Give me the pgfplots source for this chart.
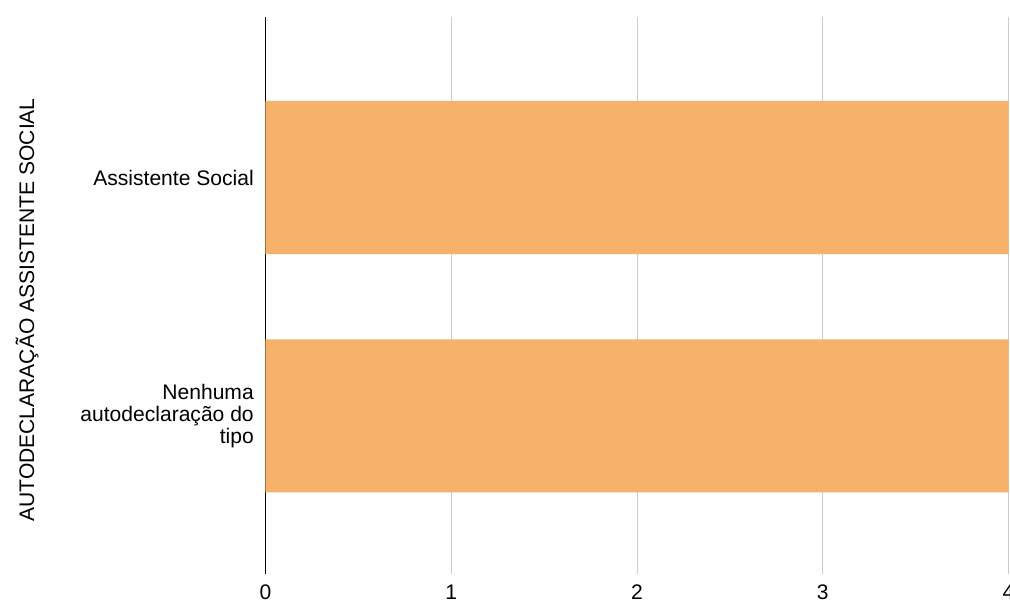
\documentclass[border=0pt]{standalone}
\usepackage{pgfplots}
\pgfplotsset{compat=1.18}
\usepackage{fontspec}
\setmainfont{Liberation Sans}
\definecolor{barc}{HTML}{F6B26B}
\definecolor{gridc}{HTML}{CCCCCC}
\begin{document}
\begin{tikzpicture}
\useasboundingbox (0,0) rectangle (757.5pt,452.25pt);
\begin{axis}[
  at={(199.125pt,21.75pt)}, anchor=south west,
  scale only axis, width=557.25pt, height=417.75pt,
  xbar, bar width=114.75pt,
  xmin=0, xmax=4, ymin=-0.6625, ymax=1.673,
  xtick={1,2,3,4},
  extra x ticks={0},
  extra x tick style={grid style={draw=black, line width=1pt}},
  ytick={0,1},
  yticklabels={{Nenhuma\\autodeclaração do\\tipo},{Assistente Social}},
  yticklabel style={align=right, anchor=east, inner sep=0pt, xshift=-8.6pt},
  xticklabel style={anchor=north, inner sep=0pt, yshift=-8pt},
  axis line style={draw=none},
  major tick length=0pt,
  xmajorgrids, grid style={gridc, line width=0.75pt},
  ylabel={AUTODECLARAÇÃO ASSISTENTE SOCIAL},
  ylabel style={at={(axis description cs:-0.321,0.474)}, anchor=center},
  /pgf/number format/assume math mode=true,
  tick label style={font=\fontsize{15.8}{16.5}\selectfont},
  label style={font=\fontsize{15.8}{16.5}\selectfont},
]
\addplot[fill=barc, draw=none] coordinates {(4,0) (4,1)};
\end{axis}
\end{tikzpicture}
\end{document}
